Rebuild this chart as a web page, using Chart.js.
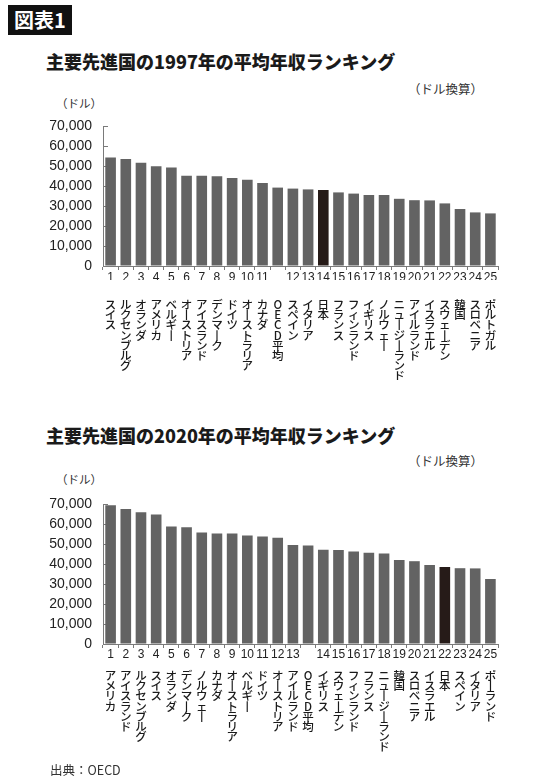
<!DOCTYPE html>
<html lang="ja">
<head>
<meta charset="utf-8">
<script src="https://cdn.jsdelivr.net/npm/chart.js@4"></script>
<style>
  html, body { margin: 0; padding: 0; background: #fff; }
  body { width: 550px; height: 780px; position: relative; overflow: hidden;
         font-family: 'Noto Sans CJK JP', 'Noto Sans', sans-serif; color: #222; }
  .abs { position: absolute; white-space: nowrap; line-height: 1; }
  .badge { left: 8px; top: 5px; width: 64px; height: 30px; background: #111; color: #fff;
           font-weight: 700; font-size: 20px; line-height: 30px; text-align: center; }
  .title { left: 46px; font-size: 18px; font-weight: 900; color: #1a1a1a; }
  .unit { font-size: 12.5px; color: #333; }
  .yunit { font-size: 11.5px; color: #333; }
  .src { left: 50px; top: 764px; font-size: 12.5px; color: #333; z-index: 5; }
  .box { position: absolute; left: 0; width: 550px; }
</style>
</head>
<body>
<div class="abs badge">図表1</div>

<div class="abs title" style="top:52px;">主要先進国の1997年の平均年収ランキング</div>
<div class="abs unit" style="left:408px; top:83px;">（ドル換算）</div>
<div class="abs yunit" style="left:56px; top:98px;">（ドル）</div>
<div class="box" style="top:108px; height:280px;"><canvas id="c1" width="550" height="280"></canvas></div>

<div class="abs title" style="top:426px;">主要先進国の2020年の平均年収ランキング</div>
<div class="abs unit" style="left:408px; top:455px;">（ドル換算）</div>
<div class="abs yunit" style="left:56px; top:474px;">（ドル）</div>
<div class="box" style="top:486px; height:280px;"><canvas id="c2" width="550" height="280"></canvas></div>

<div class="abs src">出典：OECD</div>

<script>
// ---- data: 1997 ----
const categories1997 = ['スイス','ルクセンブルグ','オランダ','アメリカ','ベルギー','オーストリア','アイスランド','デンマーク','ドイツ','オーストラリア','カナダ','OECD平均','スペイン','イタリア','日本','フランス','フィンランド','イギリス','ノルウェー','ニュージーランド','アイルランド','イスラエル','スウェーデン','韓国','スロベニア','ポルトガル'];
const ranks1997 = ['1','2','3','4','5','6','7','8','9','10','11','','12','13','14','15','16','17','18','19','20','21','22','23','24','25'];
const values1997 = [54300,53500,51600,49900,49300,45100,45100,44900,44000,43100,41500,39200,38700,38300,38000,36800,36200,35500,35500,33600,32900,32800,31300,28500,26800,26300];

// ---- data: 2020 ----
const categories2020 = ['アメリカ','アイスランド','ルクセンブルグ','スイス','オランダ','デンマーク','ノルウェー','カナダ','オーストラリア','ベルギー','ドイツ','オーストリア','アイルランド','OECD平均','イギリス','スウェーデン','フィンランド','フランス','ニュージーランド','韓国','スロベニア','イスラエル','日本','スペイン','イタリア','ポーランド'];
const ranks2020 = ['1','2','3','4','5','6','7','8','9','10','11','12','13','','14','15','16','17','18','19','20','21','22','23','24','25'];
const values2020 = [69400,67500,65900,64800,58800,58400,55800,55300,55200,54300,53700,53100,49500,49200,47100,47000,46200,45600,45300,42000,41400,39500,38500,37900,37800,32500];

// ---- y axis ticks ----
const yMin = 0, yMax = 70000, yStep = 10000;
const highlight = '日本';

const BAR = '#636363', HI = '#261b18', AXIS = '#7a7a7a';

function vertical(name) {
  return Array.from(name).map(ch => ch === 'ー' ? '丨' : ch);
}

const innerTicks = {
  id: 'innerTicks',
  beforeDatasetsDraw(chart) {
    const y = chart.scales.y, ctx = chart.ctx, left = chart.chartArea.left;
    ctx.save();
    ctx.strokeStyle = AXIS; ctx.lineWidth = 1;
    y.ticks.forEach((t, i) => {
      const py = Math.round(y.getPixelForTick(i)) + 0.5;
      ctx.beginPath(); ctx.moveTo(left, py); ctx.lineTo(left + 5, py); ctx.stroke();
    });
    ctx.restore();
  }
};

function makeChart(id, cats, ranks, vals, padTop, numPad, namePad) {
  const colors = cats.map(c => c === highlight ? HI : BAR);
  return new Chart(document.getElementById(id), {
    type: 'bar',
    data: {
      labels: ranks,
      datasets: [{ data: vals, backgroundColor: colors, borderWidth: 0,
                   categoryPercentage: 1.0, barPercentage: 0.70 }]
    },
    options: {
      responsive: false, animation: false, devicePixelRatio: 1,
      layout: { padding: { top: padTop, right: 52, bottom: 8, left: 0 } },
      plugins: { legend: { display: false }, tooltip: { enabled: false }, title: { display: false } },
      scales: {
        y: {
          min: yMin, max: yMax,
          afterFit: s => { s.width = 103; },
          ticks: { stepSize: yStep, autoSkip: false, padding: 11, color: '#222',
                   font: { family: "'Liberation Sans', Arial, sans-serif", size: 14, lineHeight: 1.0 },
                   callback: v => v.toLocaleString('en-US') },
          grid: { display: true, drawOnChartArea: false, drawTicks: false },
          border: { display: true, color: AXIS, width: 1 }
        },
        x: {
          type: 'category', position: 'bottom', weight: 0, offset: true,
          afterFit: s => { s.height = 14; },
          grid: { display: true, drawOnChartArea: false, drawTicks: true, tickLength: 4, offset: true, color: AXIS },
          border: { display: true, color: AXIS, width: 1 },
          ticks: { autoSkip: false, maxRotation: 0, minRotation: 0, padding: numPad, color: '#222',
                   font: { family: "'Liberation Sans Narrow', 'Arial Narrow', 'Liberation Sans', sans-serif", size: 12, lineHeight: 1.0 } }
        },
        x2: {
          type: 'category', position: 'bottom', weight: 1, offset: true,
          labels: cats.map(vertical),
          afterFit: s => { s.height = 100; },
          grid: { display: false, offset: true },
          border: { display: false },
          ticks: { autoSkip: false, maxRotation: 0, minRotation: 0, padding: namePad, color: '#1a1a1a',
                   font: { family: "'Noto Sans CJK JP', sans-serif", size: 11.5, weight: 500, lineHeight: 0.887 } }
        }
      }
    },
    plugins: [innerTicks]
  });
}

makeChart('c1', categories1997, ranks1997, values1997, 14, 2, 11.6);
makeChart('c2', categories2020, ranks2020, values2020, 13.5, 1, 4.6);
</script>
</body>
</html>
